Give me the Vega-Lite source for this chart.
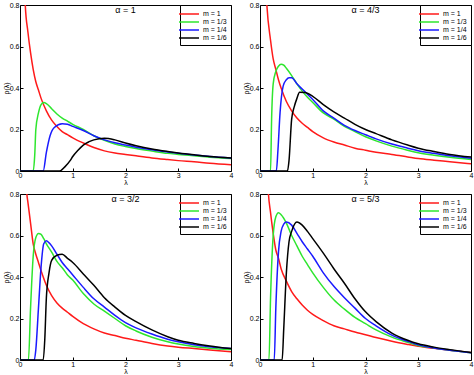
{
  "$schema": "https://vega.github.io/schema/vega-lite/v6.json",
  "background": "white",
  "padding": {"left": 1, "top": 0, "right": 2, "bottom": 0},
  "datasets": {
    "a1": [
      {"m":"m = 1","x":0.08,"y":0.95},{"m":"m = 1","x":0.1,"y":0.8},{"m":"m = 1","x":0.15,"y":0.67},{"m":"m = 1","x":0.2,"y":0.57},{"m":"m = 1","x":0.25,"y":0.49},{"m":"m = 1","x":0.3,"y":0.43},{"m":"m = 1","x":0.35,"y":0.39},{"m":"m = 1","x":0.4,"y":0.35},{"m":"m = 1","x":0.5,"y":0.29},{"m":"m = 1","x":0.6,"y":0.245},{"m":"m = 1","x":0.7,"y":0.215},{"m":"m = 1","x":0.8,"y":0.19},{"m":"m = 1","x":0.9,"y":0.175},{"m":"m = 1","x":1.0,"y":0.16},{"m":"m = 1","x":1.2,"y":0.135},{"m":"m = 1","x":1.4,"y":0.113},{"m":"m = 1","x":1.6,"y":0.097},{"m":"m = 1","x":1.8,"y":0.087},{"m":"m = 1","x":2.0,"y":0.08},{"m":"m = 1","x":2.2,"y":0.073},{"m":"m = 1","x":2.5,"y":0.063},{"m":"m = 1","x":2.8,"y":0.055},{"m":"m = 1","x":3.0,"y":0.05},{"m":"m = 1","x":3.3,"y":0.044},{"m":"m = 1","x":3.6,"y":0.037},{"m":"m = 1","x":4.0,"y":0.03},
      {"m":"m = 1/3","x":0,"y":0},{"m":"m = 1/3","x":0.25,"y":0},{"m":"m = 1/3","x":0.28,"y":0.08},{"m":"m = 1/3","x":0.3,"y":0.2},{"m":"m = 1/3","x":0.35,"y":0.28},{"m":"m = 1/3","x":0.4,"y":0.32},{"m":"m = 1/3","x":0.45,"y":0.33},{"m":"m = 1/3","x":0.5,"y":0.325},{"m":"m = 1/3","x":0.6,"y":0.3},{"m":"m = 1/3","x":0.7,"y":0.275},{"m":"m = 1/3","x":0.8,"y":0.255},{"m":"m = 1/3","x":0.9,"y":0.24},{"m":"m = 1/3","x":1.0,"y":0.225},{"m":"m = 1/3","x":1.2,"y":0.2},{"m":"m = 1/3","x":1.4,"y":0.17},{"m":"m = 1/3","x":1.6,"y":0.148},{"m":"m = 1/3","x":1.8,"y":0.13},{"m":"m = 1/3","x":2.0,"y":0.118},{"m":"m = 1/3","x":2.2,"y":0.108},{"m":"m = 1/3","x":2.5,"y":0.096},{"m":"m = 1/3","x":2.8,"y":0.085},{"m":"m = 1/3","x":3.0,"y":0.08},{"m":"m = 1/3","x":3.3,"y":0.073},{"m":"m = 1/3","x":3.6,"y":0.066},{"m":"m = 1/3","x":4.0,"y":0.06},
      {"m":"m = 1/4","x":0,"y":0},{"m":"m = 1/4","x":0.44,"y":0},{"m":"m = 1/4","x":0.5,"y":0.09},{"m":"m = 1/4","x":0.57,"y":0.17},{"m":"m = 1/4","x":0.65,"y":0.21},{"m":"m = 1/4","x":0.8,"y":0.228},{"m":"m = 1/4","x":0.9,"y":0.225},{"m":"m = 1/4","x":1.0,"y":0.215},{"m":"m = 1/4","x":1.2,"y":0.195},{"m":"m = 1/4","x":1.4,"y":0.17},{"m":"m = 1/4","x":1.6,"y":0.15},{"m":"m = 1/4","x":1.8,"y":0.136},{"m":"m = 1/4","x":2.0,"y":0.125},{"m":"m = 1/4","x":2.2,"y":0.115},{"m":"m = 1/4","x":2.5,"y":0.102},{"m":"m = 1/4","x":2.8,"y":0.091},{"m":"m = 1/4","x":3.0,"y":0.085},{"m":"m = 1/4","x":3.3,"y":0.077},{"m":"m = 1/4","x":3.6,"y":0.07},{"m":"m = 1/4","x":4.0,"y":0.063},
      {"m":"m = 1/6","x":0,"y":0},{"m":"m = 1/6","x":0.75,"y":0},{"m":"m = 1/6","x":0.85,"y":0.02},{"m":"m = 1/6","x":0.95,"y":0.05},{"m":"m = 1/6","x":1.0,"y":0.07},{"m":"m = 1/6","x":1.1,"y":0.1},{"m":"m = 1/6","x":1.2,"y":0.125},{"m":"m = 1/6","x":1.3,"y":0.14},{"m":"m = 1/6","x":1.4,"y":0.15},{"m":"m = 1/6","x":1.6,"y":0.158},{"m":"m = 1/6","x":1.8,"y":0.15},{"m":"m = 1/6","x":2.0,"y":0.135},{"m":"m = 1/6","x":2.2,"y":0.122},{"m":"m = 1/6","x":2.5,"y":0.106},{"m":"m = 1/6","x":2.8,"y":0.094},{"m":"m = 1/6","x":3.0,"y":0.087},{"m":"m = 1/6","x":3.3,"y":0.078},{"m":"m = 1/6","x":3.6,"y":0.07},{"m":"m = 1/6","x":4.0,"y":0.063}
    ],
    "a43": [
      {"m":"m = 1","x":0.1,"y":0.95},{"m":"m = 1","x":0.13,"y":0.8},{"m":"m = 1","x":0.2,"y":0.63},{"m":"m = 1","x":0.25,"y":0.54},{"m":"m = 1","x":0.3,"y":0.49},{"m":"m = 1","x":0.35,"y":0.44},{"m":"m = 1","x":0.4,"y":0.4},{"m":"m = 1","x":0.5,"y":0.335},{"m":"m = 1","x":0.6,"y":0.29},{"m":"m = 1","x":0.7,"y":0.255},{"m":"m = 1","x":0.8,"y":0.23},{"m":"m = 1","x":0.9,"y":0.21},{"m":"m = 1","x":1.0,"y":0.19},{"m":"m = 1","x":1.2,"y":0.16},{"m":"m = 1","x":1.4,"y":0.14},{"m":"m = 1","x":1.6,"y":0.125},{"m":"m = 1","x":1.8,"y":0.11},{"m":"m = 1","x":2.0,"y":0.1},{"m":"m = 1","x":2.2,"y":0.09},{"m":"m = 1","x":2.5,"y":0.08},{"m":"m = 1","x":2.8,"y":0.068},{"m":"m = 1","x":3.0,"y":0.06},{"m":"m = 1","x":3.3,"y":0.052},{"m":"m = 1","x":3.6,"y":0.045},{"m":"m = 1","x":4.0,"y":0.035},
      {"m":"m = 1/3","x":0,"y":0},{"m":"m = 1/3","x":0.2,"y":0},{"m":"m = 1/3","x":0.22,"y":0.25},{"m":"m = 1/3","x":0.25,"y":0.42},{"m":"m = 1/3","x":0.3,"y":0.48},{"m":"m = 1/3","x":0.35,"y":0.505},{"m":"m = 1/3","x":0.4,"y":0.515},{"m":"m = 1/3","x":0.45,"y":0.51},{"m":"m = 1/3","x":0.5,"y":0.495},{"m":"m = 1/3","x":0.6,"y":0.46},{"m":"m = 1/3","x":0.7,"y":0.42},{"m":"m = 1/3","x":0.8,"y":0.385},{"m":"m = 1/3","x":0.9,"y":0.355},{"m":"m = 1/3","x":1.0,"y":0.33},{"m":"m = 1/3","x":1.2,"y":0.28},{"m":"m = 1/3","x":1.4,"y":0.25},{"m":"m = 1/3","x":1.6,"y":0.215},{"m":"m = 1/3","x":1.8,"y":0.19},{"m":"m = 1/3","x":2.0,"y":0.165},{"m":"m = 1/3","x":2.2,"y":0.145},{"m":"m = 1/3","x":2.5,"y":0.12},{"m":"m = 1/3","x":2.8,"y":0.1},{"m":"m = 1/3","x":3.0,"y":0.088},{"m":"m = 1/3","x":3.3,"y":0.076},{"m":"m = 1/3","x":3.6,"y":0.066},{"m":"m = 1/3","x":4.0,"y":0.055},
      {"m":"m = 1/4","x":0,"y":0},{"m":"m = 1/4","x":0.31,"y":0},{"m":"m = 1/4","x":0.34,"y":0.1},{"m":"m = 1/4","x":0.38,"y":0.28},{"m":"m = 1/4","x":0.44,"y":0.41},{"m":"m = 1/4","x":0.5,"y":0.44},{"m":"m = 1/4","x":0.55,"y":0.45},{"m":"m = 1/4","x":0.6,"y":0.45},{"m":"m = 1/4","x":0.7,"y":0.42},{"m":"m = 1/4","x":0.8,"y":0.395},{"m":"m = 1/4","x":0.9,"y":0.37},{"m":"m = 1/4","x":1.0,"y":0.345},{"m":"m = 1/4","x":1.2,"y":0.29},{"m":"m = 1/4","x":1.4,"y":0.255},{"m":"m = 1/4","x":1.6,"y":0.22},{"m":"m = 1/4","x":1.8,"y":0.195},{"m":"m = 1/4","x":2.0,"y":0.175},{"m":"m = 1/4","x":2.2,"y":0.155},{"m":"m = 1/4","x":2.5,"y":0.13},{"m":"m = 1/4","x":2.8,"y":0.11},{"m":"m = 1/4","x":3.0,"y":0.098},{"m":"m = 1/4","x":3.3,"y":0.085},{"m":"m = 1/4","x":3.6,"y":0.073},{"m":"m = 1/4","x":4.0,"y":0.062},
      {"m":"m = 1/6","x":0,"y":0},{"m":"m = 1/6","x":0.52,"y":0},{"m":"m = 1/6","x":0.55,"y":0.05},{"m":"m = 1/6","x":0.6,"y":0.25},{"m":"m = 1/6","x":0.65,"y":0.31},{"m":"m = 1/6","x":0.7,"y":0.35},{"m":"m = 1/6","x":0.75,"y":0.38},{"m":"m = 1/6","x":0.85,"y":0.378},{"m":"m = 1/6","x":1.0,"y":0.36},{"m":"m = 1/6","x":1.2,"y":0.32},{"m":"m = 1/6","x":1.4,"y":0.285},{"m":"m = 1/6","x":1.6,"y":0.255},{"m":"m = 1/6","x":1.8,"y":0.225},{"m":"m = 1/6","x":2.0,"y":0.2},{"m":"m = 1/6","x":2.2,"y":0.18},{"m":"m = 1/6","x":2.5,"y":0.15},{"m":"m = 1/6","x":2.8,"y":0.125},{"m":"m = 1/6","x":3.0,"y":0.11},{"m":"m = 1/6","x":3.3,"y":0.094},{"m":"m = 1/6","x":3.6,"y":0.08},{"m":"m = 1/6","x":4.0,"y":0.067}
    ],
    "a32": [
      {"m":"m = 1","x":0.1,"y":0.95},{"m":"m = 1","x":0.13,"y":0.8},{"m":"m = 1","x":0.15,"y":0.76},{"m":"m = 1","x":0.2,"y":0.66},{"m":"m = 1","x":0.25,"y":0.56},{"m":"m = 1","x":0.3,"y":0.51},{"m":"m = 1","x":0.35,"y":0.47},{"m":"m = 1","x":0.4,"y":0.43},{"m":"m = 1","x":0.5,"y":0.36},{"m":"m = 1","x":0.6,"y":0.31},{"m":"m = 1","x":0.7,"y":0.275},{"m":"m = 1","x":0.8,"y":0.25},{"m":"m = 1","x":0.9,"y":0.23},{"m":"m = 1","x":1.0,"y":0.21},{"m":"m = 1","x":1.2,"y":0.175},{"m":"m = 1","x":1.4,"y":0.15},{"m":"m = 1","x":1.6,"y":0.13},{"m":"m = 1","x":1.8,"y":0.118},{"m":"m = 1","x":2.0,"y":0.105},{"m":"m = 1","x":2.2,"y":0.095},{"m":"m = 1","x":2.5,"y":0.08},{"m":"m = 1","x":2.8,"y":0.068},{"m":"m = 1","x":3.0,"y":0.062},{"m":"m = 1","x":3.3,"y":0.055},{"m":"m = 1","x":3.6,"y":0.048},{"m":"m = 1","x":4.0,"y":0.04},
      {"m":"m = 1/3","x":0,"y":0},{"m":"m = 1/3","x":0.16,"y":0},{"m":"m = 1/3","x":0.2,"y":0.25},{"m":"m = 1/3","x":0.25,"y":0.5},{"m":"m = 1/3","x":0.3,"y":0.59},{"m":"m = 1/3","x":0.35,"y":0.61},{"m":"m = 1/3","x":0.4,"y":0.605},{"m":"m = 1/3","x":0.45,"y":0.585},{"m":"m = 1/3","x":0.5,"y":0.56},{"m":"m = 1/3","x":0.6,"y":0.52},{"m":"m = 1/3","x":0.7,"y":0.475},{"m":"m = 1/3","x":0.8,"y":0.445},{"m":"m = 1/3","x":0.9,"y":0.41},{"m":"m = 1/3","x":1.0,"y":0.385},{"m":"m = 1/3","x":1.2,"y":0.32},{"m":"m = 1/3","x":1.4,"y":0.27},{"m":"m = 1/3","x":1.6,"y":0.235},{"m":"m = 1/3","x":1.8,"y":0.2},{"m":"m = 1/3","x":2.0,"y":0.165},{"m":"m = 1/3","x":2.2,"y":0.14},{"m":"m = 1/3","x":2.5,"y":0.11},{"m":"m = 1/3","x":2.8,"y":0.088},{"m":"m = 1/3","x":3.0,"y":0.077},{"m":"m = 1/3","x":3.3,"y":0.065},{"m":"m = 1/3","x":3.6,"y":0.057},{"m":"m = 1/3","x":4.0,"y":0.05},
      {"m":"m = 1/4","x":0,"y":0},{"m":"m = 1/4","x":0.27,"y":0},{"m":"m = 1/4","x":0.3,"y":0.05},{"m":"m = 1/4","x":0.35,"y":0.25},{"m":"m = 1/4","x":0.4,"y":0.45},{"m":"m = 1/4","x":0.45,"y":0.56},{"m":"m = 1/4","x":0.5,"y":0.575},{"m":"m = 1/4","x":0.55,"y":0.565},{"m":"m = 1/4","x":0.6,"y":0.55},{"m":"m = 1/4","x":0.7,"y":0.51},{"m":"m = 1/4","x":0.8,"y":0.47},{"m":"m = 1/4","x":0.9,"y":0.44},{"m":"m = 1/4","x":1.0,"y":0.41},{"m":"m = 1/4","x":1.2,"y":0.35},{"m":"m = 1/4","x":1.4,"y":0.295},{"m":"m = 1/4","x":1.6,"y":0.255},{"m":"m = 1/4","x":1.8,"y":0.215},{"m":"m = 1/4","x":2.0,"y":0.18},{"m":"m = 1/4","x":2.2,"y":0.155},{"m":"m = 1/4","x":2.5,"y":0.125},{"m":"m = 1/4","x":2.8,"y":0.1},{"m":"m = 1/4","x":3.0,"y":0.088},{"m":"m = 1/4","x":3.3,"y":0.074},{"m":"m = 1/4","x":3.6,"y":0.064},{"m":"m = 1/4","x":4.0,"y":0.055},
      {"m":"m = 1/6","x":0,"y":0},{"m":"m = 1/6","x":0.44,"y":0},{"m":"m = 1/6","x":0.47,"y":0.1},{"m":"m = 1/6","x":0.5,"y":0.3},{"m":"m = 1/6","x":0.55,"y":0.42},{"m":"m = 1/6","x":0.6,"y":0.48},{"m":"m = 1/6","x":0.7,"y":0.505},{"m":"m = 1/6","x":0.8,"y":0.51},{"m":"m = 1/6","x":0.9,"y":0.49},{"m":"m = 1/6","x":1.0,"y":0.47},{"m":"m = 1/6","x":1.2,"y":0.415},{"m":"m = 1/6","x":1.4,"y":0.36},{"m":"m = 1/6","x":1.6,"y":0.3},{"m":"m = 1/6","x":1.8,"y":0.255},{"m":"m = 1/6","x":2.0,"y":0.215},{"m":"m = 1/6","x":2.2,"y":0.185},{"m":"m = 1/6","x":2.5,"y":0.145},{"m":"m = 1/6","x":2.8,"y":0.112},{"m":"m = 1/6","x":3.0,"y":0.095},{"m":"m = 1/6","x":3.3,"y":0.08},{"m":"m = 1/6","x":3.6,"y":0.068},{"m":"m = 1/6","x":4.0,"y":0.055}
    ],
    "a53": [
      {"m":"m = 1","x":0.13,"y":0.95},{"m":"m = 1","x":0.16,"y":0.8},{"m":"m = 1","x":0.2,"y":0.71},{"m":"m = 1","x":0.25,"y":0.61},{"m":"m = 1","x":0.3,"y":0.53},{"m":"m = 1","x":0.35,"y":0.49},{"m":"m = 1","x":0.4,"y":0.44},{"m":"m = 1","x":0.5,"y":0.38},{"m":"m = 1","x":0.6,"y":0.33},{"m":"m = 1","x":0.7,"y":0.295},{"m":"m = 1","x":0.8,"y":0.265},{"m":"m = 1","x":0.9,"y":0.24},{"m":"m = 1","x":1.0,"y":0.22},{"m":"m = 1","x":1.2,"y":0.19},{"m":"m = 1","x":1.4,"y":0.165},{"m":"m = 1","x":1.6,"y":0.15},{"m":"m = 1","x":1.8,"y":0.135},{"m":"m = 1","x":2.0,"y":0.122},{"m":"m = 1","x":2.2,"y":0.108},{"m":"m = 1","x":2.5,"y":0.09},{"m":"m = 1","x":2.8,"y":0.075},{"m":"m = 1","x":3.0,"y":0.066},{"m":"m = 1","x":3.3,"y":0.056},{"m":"m = 1","x":3.6,"y":0.047},{"m":"m = 1","x":4.0,"y":0.036},
      {"m":"m = 1/3","x":0,"y":0},{"m":"m = 1/3","x":0.17,"y":0},{"m":"m = 1/3","x":0.2,"y":0.3},{"m":"m = 1/3","x":0.25,"y":0.6},{"m":"m = 1/3","x":0.3,"y":0.69},{"m":"m = 1/3","x":0.35,"y":0.71},{"m":"m = 1/3","x":0.4,"y":0.7},{"m":"m = 1/3","x":0.5,"y":0.66},{"m":"m = 1/3","x":0.6,"y":0.6},{"m":"m = 1/3","x":0.7,"y":0.55},{"m":"m = 1/3","x":0.8,"y":0.5},{"m":"m = 1/3","x":0.9,"y":0.46},{"m":"m = 1/3","x":1.0,"y":0.42},{"m":"m = 1/3","x":1.2,"y":0.35},{"m":"m = 1/3","x":1.4,"y":0.29},{"m":"m = 1/3","x":1.6,"y":0.245},{"m":"m = 1/3","x":1.8,"y":0.205},{"m":"m = 1/3","x":2.0,"y":0.175},{"m":"m = 1/3","x":2.2,"y":0.145},{"m":"m = 1/3","x":2.5,"y":0.11},{"m":"m = 1/3","x":2.8,"y":0.085},{"m":"m = 1/3","x":3.0,"y":0.07},{"m":"m = 1/3","x":3.3,"y":0.058},{"m":"m = 1/3","x":3.6,"y":0.047},{"m":"m = 1/3","x":4.0,"y":0.035},
      {"m":"m = 1/4","x":0,"y":0},{"m":"m = 1/4","x":0.27,"y":0},{"m":"m = 1/4","x":0.3,"y":0.25},{"m":"m = 1/4","x":0.35,"y":0.52},{"m":"m = 1/4","x":0.4,"y":0.62},{"m":"m = 1/4","x":0.45,"y":0.655},{"m":"m = 1/4","x":0.5,"y":0.665},{"m":"m = 1/4","x":0.6,"y":0.65},{"m":"m = 1/4","x":0.7,"y":0.61},{"m":"m = 1/4","x":0.8,"y":0.57},{"m":"m = 1/4","x":0.9,"y":0.535},{"m":"m = 1/4","x":1.0,"y":0.5},{"m":"m = 1/4","x":1.2,"y":0.42},{"m":"m = 1/4","x":1.4,"y":0.355},{"m":"m = 1/4","x":1.6,"y":0.3},{"m":"m = 1/4","x":1.8,"y":0.25},{"m":"m = 1/4","x":2.0,"y":0.2},{"m":"m = 1/4","x":2.2,"y":0.165},{"m":"m = 1/4","x":2.5,"y":0.12},{"m":"m = 1/4","x":2.8,"y":0.09},{"m":"m = 1/4","x":3.0,"y":0.073},{"m":"m = 1/4","x":3.3,"y":0.058},{"m":"m = 1/4","x":3.6,"y":0.047},{"m":"m = 1/4","x":4.0,"y":0.035},
      {"m":"m = 1/6","x":0,"y":0},{"m":"m = 1/6","x":0.42,"y":0},{"m":"m = 1/6","x":0.45,"y":0.15},{"m":"m = 1/6","x":0.5,"y":0.42},{"m":"m = 1/6","x":0.55,"y":0.57},{"m":"m = 1/6","x":0.6,"y":0.62},{"m":"m = 1/6","x":0.7,"y":0.665},{"m":"m = 1/6","x":0.8,"y":0.65},{"m":"m = 1/6","x":0.9,"y":0.62},{"m":"m = 1/6","x":1.0,"y":0.585},{"m":"m = 1/6","x":1.2,"y":0.515},{"m":"m = 1/6","x":1.4,"y":0.44},{"m":"m = 1/6","x":1.6,"y":0.37},{"m":"m = 1/6","x":1.8,"y":0.295},{"m":"m = 1/6","x":2.0,"y":0.232},{"m":"m = 1/6","x":2.2,"y":0.185},{"m":"m = 1/6","x":2.5,"y":0.13},{"m":"m = 1/6","x":2.8,"y":0.095},{"m":"m = 1/6","x":3.0,"y":0.078},{"m":"m = 1/6","x":3.3,"y":0.062},{"m":"m = 1/6","x":3.6,"y":0.05},{"m":"m = 1/6","x":4.0,"y":0.036}
    ]
  },
  "resolve": {"scale": {"color": "independent"}, "legend": {"color": "independent"}},
  "spacing": 3,
  "vconcat": [
    {
      "spacing": 7,
      "hconcat": [
        {
          "width": 211, "height": 166,
          "data": {"name": "a1"},
          "title": {"text": "α = 1"},
          "encoding": {
            "x": {"field": "x", "type": "quantitative", "scale": {"domain": [0, 4], "nice": false}, "axis": {"title": "λ", "values": [0, 1, 2, 3, 4]}},
            "y": {"field": "y", "type": "quantitative", "scale": {"domain": [0, 0.8], "nice": false}, "axis": {"title": "ρ(λ)", "values": [0, 0.2, 0.4, 0.6, 0.8], "format": "~g"}},
            "color": {"field": "m", "type": "nominal", "scale": {"domain": ["m = 1", "m = 1/3", "m = 1/4", "m = 1/6"], "range": ["#ff1a1a", "#2ee62e", "#1a1aff", "#000000"]}, "legend": {"orient": "top-right", "title": null}}
          },
          "mark": {"type": "line", "interpolate": "monotone", "clip": true, "strokeWidth": 1.5}
        },
        {
          "width": 211, "height": 166,
          "data": {"name": "a43"},
          "title": {"text": "α = 4/3"},
          "encoding": {
            "x": {"field": "x", "type": "quantitative", "scale": {"domain": [0, 4], "nice": false}, "axis": {"title": "λ", "values": [0, 1, 2, 3, 4]}},
            "y": {"field": "y", "type": "quantitative", "scale": {"domain": [0, 0.8], "nice": false}, "axis": {"title": "ρ(λ)", "values": [0, 0.2, 0.4, 0.6, 0.8], "format": "~g"}},
            "color": {"field": "m", "type": "nominal", "scale": {"domain": ["m = 1", "m = 1/3", "m = 1/4", "m = 1/6"], "range": ["#ff1a1a", "#2ee62e", "#1a1aff", "#000000"]}, "legend": {"orient": "top-right", "title": null}}
          },
          "mark": {"type": "line", "interpolate": "monotone", "clip": true, "strokeWidth": 1.5}
        }
      ],
      "resolve": {"scale": {"color": "independent"}, "legend": {"color": "independent"}}
    },
    {
      "spacing": 7,
      "hconcat": [
        {
          "width": 211, "height": 166,
          "data": {"name": "a32"},
          "title": {"text": "α = 3/2"},
          "encoding": {
            "x": {"field": "x", "type": "quantitative", "scale": {"domain": [0, 4], "nice": false}, "axis": {"title": "λ", "values": [0, 1, 2, 3, 4]}},
            "y": {"field": "y", "type": "quantitative", "scale": {"domain": [0, 0.8], "nice": false}, "axis": {"title": "ρ(λ)", "values": [0, 0.2, 0.4, 0.6, 0.8], "format": "~g"}},
            "color": {"field": "m", "type": "nominal", "scale": {"domain": ["m = 1", "m = 1/3", "m = 1/4", "m = 1/6"], "range": ["#ff1a1a", "#2ee62e", "#1a1aff", "#000000"]}, "legend": {"orient": "top-right", "title": null}}
          },
          "mark": {"type": "line", "interpolate": "monotone", "clip": true, "strokeWidth": 1.5}
        },
        {
          "width": 211, "height": 166,
          "data": {"name": "a53"},
          "title": {"text": "α = 5/3"},
          "encoding": {
            "x": {"field": "x", "type": "quantitative", "scale": {"domain": [0, 4], "nice": false}, "axis": {"title": "λ", "values": [0, 1, 2, 3, 4]}},
            "y": {"field": "y", "type": "quantitative", "scale": {"domain": [0, 0.8], "nice": false}, "axis": {"title": "ρ(λ)", "values": [0, 0.2, 0.4, 0.6, 0.8], "format": "~g"}},
            "color": {"field": "m", "type": "nominal", "scale": {"domain": ["m = 1", "m = 1/3", "m = 1/4", "m = 1/6"], "range": ["#ff1a1a", "#2ee62e", "#1a1aff", "#000000"]}, "legend": {"orient": "top-right", "title": null}}
          },
          "mark": {"type": "line", "interpolate": "monotone", "clip": true, "strokeWidth": 1.5}
        }
      ],
      "resolve": {"scale": {"color": "independent"}, "legend": {"color": "independent"}}
    }
  ],
  "config": {
    "font": "Liberation Sans",
    "view": {"stroke": "#000000", "strokeWidth": 1},
    "title": {"offset": -14, "fontSize": 9, "fontWeight": "normal", "color": "#000000", "anchor": "middle"},
    "axis": {"grid": false, "domain": false, "tickColor": "#000000", "tickSize": -3, "labelFontSize": 7, "labelColor": "#000000", "titleFontSize": 7, "titleFontWeight": "normal", "titleColor": "#000000", "titlePadding": 0, "labelFlush": false, "labelOverlap": false},
    "axisX": {"labelPadding": 3},
    "axisY": {"labelPadding": 4},
    "legend": {"offset": 0, "labelFontSize": 7, "labelColor": "#000000", "symbolType": "M-2.5,0H2.5", "symbolSize": 64, "symbolStrokeWidth": 1.5, "strokeColor": "#000000", "fillColor": "#ffffff", "padding": 4, "rowPadding": 0, "labelOffset": 9, "cornerRadius": 0}
  }
}
